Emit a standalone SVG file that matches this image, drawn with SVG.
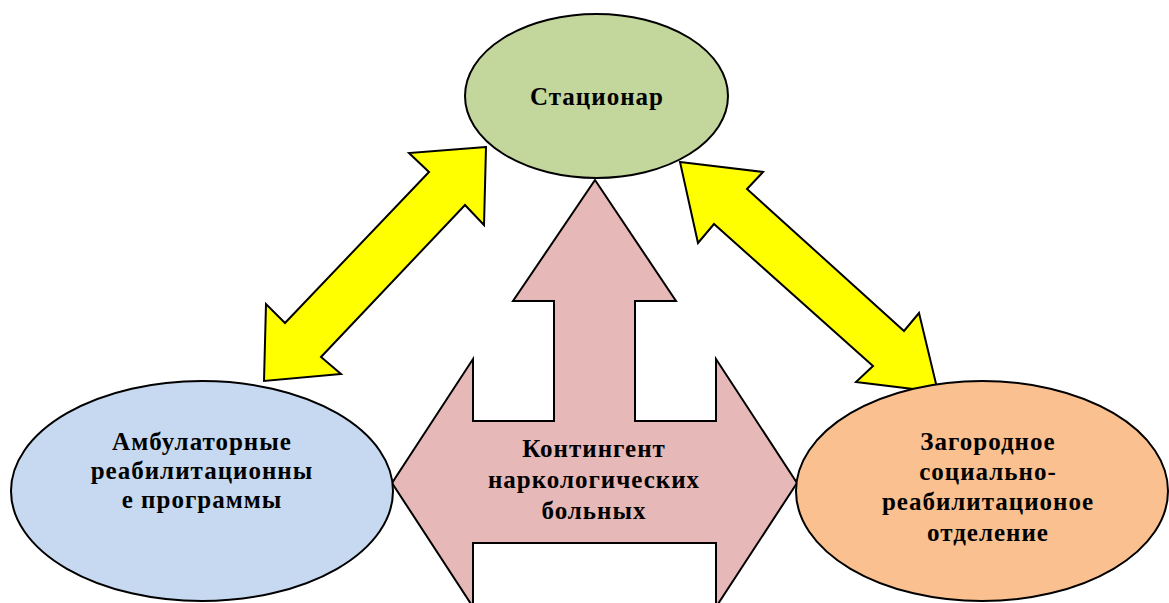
<svg xmlns="http://www.w3.org/2000/svg" width="1169" height="603" viewBox="0 0 1169 603">
<style>
.s{stroke:#000;stroke-width:2;stroke-linejoin:miter}
.t{font-family:"Liberation Serif","Times New Roman",serif;font-weight:bold;font-size:25px;letter-spacing:1px;fill:#000;text-anchor:middle}
</style>
<rect width="1169" height="603" fill="#fff"/>
<g id="center">
<polygon class="s" fill="#E6B8B7" points="595,180 676,301 635,301 635,421 716,421 716,359 797,483 716,607 716,543 473,543 473,607 392,483 473,359 473,421 554,421 554,301 513,301"/>
<text class="t" x="594" y="457">Контингент</text>
<text class="t" x="594" y="488">наркологических</text>
<text class="t" x="594" y="519">больных</text>
</g>
<g id="connectors">
<polygon class="s" fill="#FFFF00" points="486,147 409,153 429,172 285,323 266,304 264,381 341,374 321,357 465,205 484,225"/>
<polygon class="s" fill="#FFFF00" points="680,162 763,172 747,189 904,331 919,313 938,392 856,382 873,366 714,224 698,243"/>
</g>
<g id="stacionar">
<ellipse class="s" fill="#C3D69B" cx="596.5" cy="96" rx="131.5" ry="82"/>
<text class="t" x="597" y="105">Стационар</text>
</g>
<g id="ambulatory">
<ellipse class="s" fill="#C6D9F0" cx="202" cy="491" rx="191" ry="110"/>
<text class="t" x="202" y="450">Амбулаторные</text>
<text class="t" x="202" y="479">реабилитационны</text>
<text class="t" x="202" y="508">е программы</text>
</g>
<g id="suburban">
<ellipse class="s" fill="#FAC090" cx="982" cy="491" rx="186" ry="110"/>
<text class="t" x="988" y="450">Загородное</text>
<text class="t" x="988" y="480">социально-</text>
<text class="t" x="988" y="510">реабилитационое</text>
<text class="t" x="988" y="541">отделение</text>
</g>
</svg>
